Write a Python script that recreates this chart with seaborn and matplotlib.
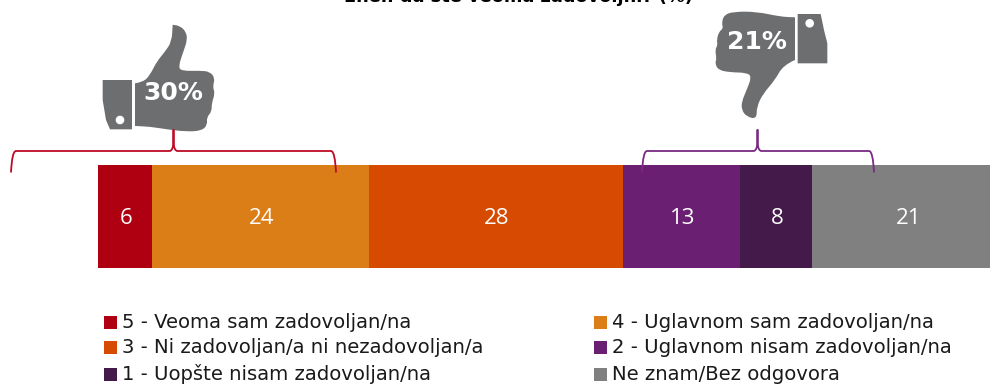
import matplotlib
matplotlib.use("Agg")
import matplotlib.pyplot as plt
import seaborn as sns
import pandas as pd
from matplotlib.path import Path
from matplotlib.patches import PathPatch, Rectangle, Circle

categories = ["5 - Veoma sam zadovoljan/na", "4 - Uglavnom sam zadovoljan/na",
              "3 - Ni zadovoljan/a ni nezadovoljan/a", "2 - Uglavnom nisam zadovoljan/na",
              "1 - Uopšte nisam zadovoljan/na", "Ne znam/Bez odgovora"]
values = [6, 24, 28, 13, 8, 21]
colors = ["#AF0012", "#DB7E17", "#D64A02", "#6B1F73", "#431A4A", "#808080"]
title = "Ener. da ste veoma zadovoljni? (%)"

sns.set_theme(style="white")
plt.rcParams["font.family"] = ["DejaVu Sans"]
W, H = 990, 385
fig = plt.figure(figsize=(W/100, H/100), dpi=100)

left_px, right_px = 98, 990
top_px, bot_px = 165, 268
ax = fig.add_axes([left_px/W, 1-bot_px/H, (right_px-left_px)/W, (bot_px-top_px)/H])
df = pd.DataFrame({"row": ["a"]*len(values), "v": values, "c": categories})
cum = 0
for v, c, col in zip(values, categories, colors):
    sns.barplot(data=df[df.c == c], x="v", y="row", left=cum, color=col, width=1.0,
                saturation=1, orient="h", ax=ax, linewidth=0, errorbar=None)
    ax.annotate(str(v), (cum+v/2, 0), xytext=(0.8, -1.5), textcoords="offset points",
                color="white", ha="center", va="center", fontsize=16, family="Open Sans")
    cum += v
ax.set_xlim(0, (right_px-left_px)/9.044)
ax.set_ylim(0.5, -0.5)
ax.axis("off")

ov = fig.add_axes([0, 0, 1, 1], zorder=5)
ov.set_xlim(0, W); ov.set_ylim(H, 0); ov.axis("off"); ov.patch.set_alpha(0)

fig.text(518/W, 1-(-3)/H, title, ha="center", va="center", fontsize=12.8, fontweight="bold", color="black")

GREY = "#6D6E70"

def smooth(pts):
    M, L, C = Path.MOVETO, Path.LINETO, Path.CURVE3
    verts, codes = [pts[0]], [M]
    n = len(pts)
    for i in range(1, n-1):
        p, q = pts[i], pts[i+1]
        mid = ((p[0]+q[0])/2, (p[1]+q[1])/2)
        verts += [p, mid]; codes += [C, C]
    verts += [pts[-1]]; codes += [L]
    verts += [pts[0]]; codes += [L]
    return Path(verts, codes)

def conv(z, ox=0):
    return [(x/3+ox, y/3) for x, y in z]

thumb_z = [(405,250),(430,246),(450,225),(470,185),(495,155),(515,125),(518,75),(518,74),(540,78),(558,95),(562,120),
           (550,155),(535,200),(545,213),(600,212),(630,215),(645,235),(638,260),(645,280),(635,310),
           (635,335),(620,352),(622,375),(605,392),(560,395),(500,388),(450,380),(405,378)]
ov.add_patch(PathPatch(smooth(conv(thumb_z)), fc=GREY, ec="none"))
cuff_up = conv([(308,240),(396,240),(396,388),(330,388),(318,360),(308,300)])
ov.add_patch(plt.Polygon(cuff_up, fc=GREY, ec="none"))
ov.add_patch(Circle((120,120), 4.3, fc="white", ec="none"))
ov.text(173.5, 93, "30%", color="white", fontsize=18, fontweight="bold", ha="center", va="center")

down_z = [(585,180),(550,195),(525,240),(490,280),(470,320),(470,357),(440,350),(425,330),(425,305),(440,270),
          (455,230),(440,218),(390,217),(355,210),(345,190),(350,175),(345,150),(353,135),(350,120),(357,95),
          (370,85),(365,70),(372,45),(400,35),(470,35),(540,50),(585,52)]
ov.add_patch(PathPatch(smooth(conv(down_z, 600)), fc=GREY, ec="none"))
cuff_dn = conv([(593,42),(662,42),(672,90),(682,130),(682,190),(593,190)], 600)
ov.add_patch(plt.Polygon(cuff_dn, fc=GREY, ec="none"))
ov.add_patch(Circle((809.7,23.3), 4.3, fc="white", ec="none"))
ov.text(757, 42, "21%", color="white", fontsize=18, fontweight="bold", ha="center", va="center")

def brace(x0, xm, x1, ytop, y, yend, col):
    M, L, C = Path.MOVETO, Path.LINETO, Path.CURVE3
    verts = [(x0,yend),(x0+1,y),(x0+5,y),(xm-4,y),(xm-0.5,y),(xm,y-9),(xm,ytop),
             (xm,y-9),(xm+0.5,y),(xm+4,y),(x1-5,y),(x1-1,y),(x1,yend)]
    codes = [M,C,C,L,C,C,L,L,C,C,L,C,C]
    ov.add_patch(PathPatch(Path(verts,codes), fc="none", ec=col, lw=1.3))
brace(11, 173.5, 336, 129.5, 151, 172.5, "#BE0A26")
brace(642, 757.5, 874, 129.5, 151, 172.5, "#7A2A82")

lx = [104, 594]
ly = [322, 347, 374]
for i, (c, col) in enumerate(zip(categories, colors)):
    col_i = i % 2; row = i//2
    ov.add_patch(Rectangle((lx[col_i], ly[row]-6), 13, 13, fc=col, ec="none"))
    ov.text(lx[col_i]+18, ly[row]+0.5, c, fontsize=14.1, color="#1a1a1a", ha="left", va="center")

fig.savefig("out.png", dpi=100)
